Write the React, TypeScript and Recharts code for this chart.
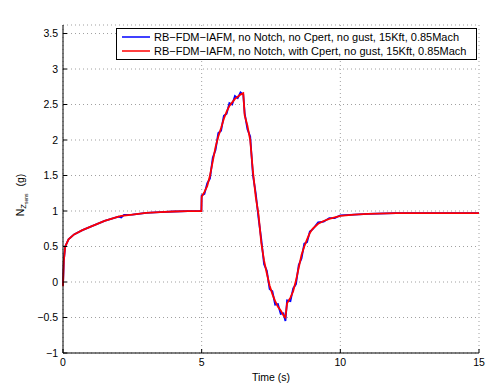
import {LineChart, Line, XAxis, YAxis, CartesianGrid, Legend} from 'recharts';

// time in seconds
const times = [
    0, 0.03, 0.08, 0.2, 0.4, 0.7, 1.0, 1.5, 2.0, 2.1, 2.2, 2.5, 3.0, 3.5, 4.0, 4.5, 4.99,
    5.0, 5.1, 5.2, 5.3, 5.4, 5.5, 5.6, 5.7, 5.8, 5.9, 6.0, 6.1, 6.2, 6.3, 6.4, 6.5,
    6.55, 6.65, 6.75, 6.85, 6.95, 7.05, 7.15, 7.25, 7.35, 7.45, 7.55, 7.65, 7.75, 7.85, 7.95, 8.02,
    8.08, 8.2, 8.3, 8.4, 8.5, 8.6, 8.7, 8.8, 8.9, 9.0, 9.2, 9.4, 9.6, 9.8, 10.0, 10.5, 11, 12, 13, 15,
];

// no Cpert (blue)
const noCpert = [
    -0.05, 0.3, 0.5, 0.6, 0.67, 0.73, 0.78, 0.86, 0.92, 0.91, 0.945, 0.95, 0.975, 0.985, 0.993, 0.997, 1.0,
    1.22, 1.24, 1.39, 1.46, 1.75, 1.86, 2.1, 2.13, 2.34, 2.37, 2.52, 2.5, 2.62, 2.59, 2.67, 2.64,
    2.38, 2.15, 2.05, 1.5, 1.25, 0.9, 0.6, 0.25, 0.16, -0.1, -0.13, -0.32, -0.31, -0.45, -0.44, -0.55,
    -0.26, -0.27, -0.09, -0.03, 0.24, 0.33, 0.54, 0.56, 0.71, 0.74, 0.84, 0.85, 0.9, 0.9, 0.94, 0.95, 0.96, 0.97, 0.97, 0.97,
];

// with Cpert (red)
const withCpert = [
    -0.06, 0.3, 0.5, 0.6, 0.67, 0.73, 0.78, 0.86, 0.92, 0.93, 0.935, 0.95, 0.975, 0.985, 0.993, 0.997, 1.0,
    1.2, 1.27, 1.35, 1.5, 1.7, 1.9, 2.05, 2.17, 2.3, 2.4, 2.48, 2.53, 2.58, 2.61, 2.64, 2.66,
    2.35, 2.2, 2.0, 1.55, 1.2, 0.95, 0.55, 0.3, 0.12, -0.05, -0.17, -0.27, -0.35, -0.4, -0.47, -0.5,
    -0.3, -0.22, -0.13, 0.02, 0.2, 0.38, 0.5, 0.6, 0.69, 0.75, 0.82, 0.86, 0.89, 0.91, 0.93, 0.95, 0.96, 0.97, 0.97, 0.97,
];

const xTicks = [0, 5, 10, 15];
const yTicks = [-1, -0.5, 0, 0.5, 1, 1.5, 2, 2.5, 3, 3.5];
const seriesNames = [
    'RB\u2212FDM\u2212IAFM, no Notch, no Cpert, no gust, 15Kft, 0.85Mach',
    'RB\u2212FDM\u2212IAFM, no Notch, with Cpert, no gust, 15Kft, 0.85Mach',
];
const seriesColors = ['#0000ff', '#ff0000'];

const chartData = times.map((t, i) => ({time: t, noCpert: noCpert[i], withCpert: withCpert[i]}));

const font = "'Liberation Sans', Arial, Helvetica, sans-serif";
const tickStyle = {fontSize: 10.5, fill: '#000', fontFamily: font};
const fmt = (v: number) => (v < 0 ? '\u2212' + Math.abs(v) : String(v));
const blank = () => '';

const App = () => {
    return (
        <div style={{position: 'absolute', left: 0, top: 0, background: '#fff'}}>
            <LineChart width={486} height={387} data={chartData} margin={{top: 25, right: 7, bottom: 14, left: 23}}>
                <CartesianGrid stroke='#777' strokeDasharray='1 3' strokeWidth={0.7} />
                <XAxis
                    dataKey='time'
                    type='number'
                    domain={[0, 15]}
                    ticks={xTicks}
                    height={20}
                    tickSize={-4}
                    tickMargin={10}
                    tick={tickStyle}
                    axisLine={{stroke: '#000'}}
                    tickLine={{stroke: '#000'}}
                    label={{content: (p: any) => (
                        <text x={p.viewBox.x + p.viewBox.width / 2} y={381} textAnchor='middle' fontSize={10.5} fontFamily={font}>
                            Time (s)
                        </text>
                    )}}
                />
                <XAxis
                    xAxisId='top'
                    orientation='top'
                    dataKey='time'
                    type='number'
                    domain={[0, 15]}
                    ticks={xTicks}
                    height={0}
                    tickSize={-4}
                    tickFormatter={blank}
                    axisLine={{stroke: '#000'}}
                    tickLine={{stroke: '#000'}}
                    label={{content: (p: any) => (
                        <text x={p.viewBox.x + p.viewBox.width / 2} y={17} textAnchor='middle' fontSize={11.2} fontFamily={font}>
                            body normal acceleration at accelerometer
                        </text>
                    )}}
                />
                <YAxis
                    type='number'
                    domain={[-1, 3.62]}
                    allowDataOverflow
                    ticks={yTicks}
                    width={40}
                    tickSize={-4}
                    tickMargin={9}
                    tick={tickStyle}
                    tickFormatter={fmt}
                    axisLine={{stroke: '#000'}}
                    tickLine={{stroke: '#000'}}
                    label={{content: (p: any) => (
                        <text
                            transform={`translate(24, ${p.viewBox.y + p.viewBox.height / 2 + 6}) rotate(-90)`}
                            textAnchor='middle'
                            fontSize={10.5}
                            fontFamily={font}
                        >
                            N
                            <tspan fontSize={7.5} dy={2}>Z</tspan>
                            <tspan fontSize={5} dy={2}>sens</tspan>
                            <tspan fontSize={10.5} dy={-4} dx={7}>(g)</tspan>
                        </text>
                    )}}
                />
                <YAxis
                    yAxisId='right'
                    orientation='right'
                    type='number'
                    domain={[-1, 3.62]}
                    allowDataOverflow
                    ticks={yTicks}
                    width={0}
                    tickSize={-4}
                    tickFormatter={blank}
                    axisLine={{stroke: '#000'}}
                    tickLine={{stroke: '#000'}}
                />
                <Legend
                    layout='vertical'
                    verticalAlign='middle'
                    align='center'
                    wrapperStyle={{left: 116, top: 28, width: 361}}
                    content={() => <LegendBox />}
                />
                <Line dataKey='noCpert' stroke={seriesColors[0]} strokeWidth={1.8} dot={false} type='linear' isAnimationActive={false} />
                <Line dataKey='withCpert' stroke={seriesColors[1]} strokeWidth={1.8} dot={false} type='linear' isAnimationActive={false} />
            </LineChart>
        </div>
    );
};

export default App;

const LegendBox = () => (
    <div
        style={{
            width: 361,
            boxSizing: 'border-box',
            border: '1px solid #000',
            background: '#fff',
            padding: '1px 2px 1px 5px',
            fontFamily: font,
            fontSize: 11,
            lineHeight: '14px',
            color: '#000',
        }}
    >
        {seriesNames.map((name, i) => (
            <div key={name} style={{display: 'flex', alignItems: 'center', whiteSpace: 'nowrap'}}>
                <svg width={28} height={10} style={{marginRight: 4, flexShrink: 0}}>
                    <line x1={0} y1={5} x2={28} y2={5} stroke={seriesColors[i]} strokeWidth={1.5} />
                </svg>
                {name}
            </div>
        ))}
    </div>
);
